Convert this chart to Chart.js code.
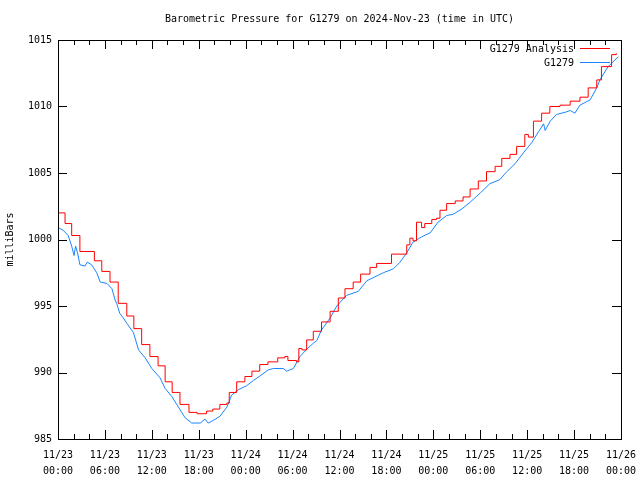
<!DOCTYPE html>
<html>
<head>
<meta charset="utf-8">
<script src="https://cdn.jsdelivr.net/npm/chart.js"></script>
<style>
  html, body { margin: 0; padding: 0; background: #fff; }
  #wrap { width: 640px; height: 480px; }
</style>
</head>
<body>
<div id="wrap"><canvas id="myChart" width="640" height="480"></canvas></div>
<script>
// hours since 11/23 00:00 UTC
const analysisHours = [0, 0.9, 1.75, 2.8, 4.65, 5.6, 6.65, 7.7, 8.8, 9.7, 10.7, 11.75, 12.8, 13.7, 14.6, 15.6, 16.75, 17.8, 19.0, 19.8, 20.7, 21.6, 21.9, 22.85, 23.9, 24.8, 25.8, 26.85, 28.1, 29.0, 29.4, 30.5, 30.8, 31.2, 31.8, 32.65, 33.7, 34.8, 35.85, 36.7, 37.75, 38.7, 39.9, 40.75, 42.65, 44.6, 45.0, 45.4, 45.85, 46.5, 46.9, 47.8, 48.4, 48.85, 49.7, 50.8, 51.8, 52.7, 53.75, 54.8, 55.9, 56.75, 57.8, 58.65, 59.7, 60.15, 60.8, 61.85, 62.9, 64.2, 65.5, 66.75, 67.8, 68.9, 69.5, 70.8, 71.4];
const analysisValues = [1002.0, 1001.2, 1000.3, 999.1, 998.4, 997.6, 996.8, 995.2, 994.25, 993.3, 992.1, 991.2, 990.5, 989.3, 988.5, 987.6, 987.0, 986.9, 987.1, 987.25, 987.6, 987.7, 988.5, 989.3, 989.7, 990.1, 990.6, 990.8, 991.1, 991.2, 990.9, 990.8, 991.8, 991.7, 992.45, 993.1, 993.8, 994.6, 995.6, 996.3, 996.8, 997.4, 997.9, 998.2, 998.9, 999.6, 1000.1, 999.9, 1001.3, 1000.9, 1001.2, 1001.5, 1001.6, 1002.2, 1002.7, 1002.9, 1003.2, 1003.8, 1004.4, 1005.1, 1005.5, 1006.1, 1006.4, 1007.0, 1007.9, 1007.7, 1008.9, 1009.5, 1010.0, 1010.1, 1010.4, 1010.7, 1011.4, 1012.0, 1013.0, 1013.9, 1014.0];

const stationHours = [0, 0.65, 1.3, 1.75, 2.05, 2.25, 2.5, 2.8, 3.45, 3.75, 4.3, 4.95, 5.4, 6.25, 6.9, 7.3, 7.5, 7.9, 8.35, 8.8, 9.65, 10.3, 11.15, 12.0, 13.05, 13.7, 14.55, 15.4, 16.25, 17.1, 18.2, 18.8, 19.2, 19.85, 20.7, 21.6, 22.2, 23.05, 24.1, 25.0, 25.85, 26.9, 27.55, 28.8, 29.25, 30.1, 30.95, 31.8, 32.65, 33.1, 33.7, 34.8, 35.65, 36.9, 38.4, 39.5, 40.55, 41.6, 42.9, 43.75, 44.6, 45.4, 46.5, 47.6, 48.6, 49.7, 50.55, 51.65, 52.7, 54.0, 55.25, 56.5, 57.4, 58.45, 59.5, 60.6, 61.45, 62.1, 62.3, 62.95, 63.75, 65.05, 65.5, 66.1, 66.75, 68.05, 68.9, 69.3, 70.35, 70.8, 71.65];
const stationValues = [1000.9, 1000.7, 1000.3, 999.5, 998.8, 999.5, 999.0, 998.1, 998.0, 998.3, 998.1, 997.5, 996.8, 996.7, 996.3, 995.45, 995.2, 994.45, 994.1, 993.7, 993.0, 991.7, 991.1, 990.3, 989.6, 988.8, 988.2, 987.4, 986.6, 986.2, 986.2, 986.5, 986.2, 986.4, 986.7, 987.4, 988.3, 988.7, 989.0, 989.4, 989.75, 990.2, 990.3, 990.3, 990.1, 990.3, 991.2, 991.75, 992.2, 992.4, 993.2, 994.1, 995.0, 995.8, 996.1, 996.9, 997.2, 997.5, 997.8, 998.3, 999.0, 999.8, 1000.2, 1000.5, 1001.3, 1001.8, 1001.9, 1002.3, 1002.8, 1003.5, 1004.2, 1004.5, 1005.1, 1005.7, 1006.5, 1007.3, 1008.1, 1008.7, 1008.2, 1008.9, 1009.4, 1009.6, 1009.7, 1009.5, 1010.1, 1010.5, 1011.4, 1012.0, 1013.0, 1013.25, 1013.75];

const dateLabels = ['11/23', '11/23', '11/23', '11/23', '11/24', '11/24', '11/24', '11/24', '11/25', '11/25', '11/25', '11/25', '11/26'];
const timeLabels = ['00:00', '06:00', '12:00', '18:00', '00:00', '06:00', '12:00', '18:00', '00:00', '06:00', '12:00', '18:00', '00:00'];
const yTicks = [985, 990, 995, 1000, 1005, 1010, 1015];

const FONT = 'DejaVu Sans Mono';

// gnuplot style frame, inward ticks, title and key
const gnuplotLook = {
    id: 'gnuplotLook',
    afterDatasetsDraw(chart) {
        const ctx = chart.ctx;
        const a = chart.chartArea;
        const xs = chart.scales.x;
        const ys = chart.scales.y;
        ctx.save();
        ctx.strokeStyle = '#000';
        ctx.lineWidth = 1;
        ctx.beginPath();
        // x ticks every 2h, major every 6h
        for (let h = 0; h <= 72; h += 2) {
            const px = Math.round(xs.getPixelForValue(h)) + 0.5;
            const len = h % 6 === 0 ? 9 : 5;
            ctx.moveTo(px, a.bottom); ctx.lineTo(px, a.bottom - len);
            ctx.moveTo(px, a.top); ctx.lineTo(px, a.top + len);
        }
        yTicks.forEach(v => {
            const py = Math.round(ys.getPixelForValue(v)) + 0.5;
            ctx.moveTo(a.left, py); ctx.lineTo(a.left + 9, py);
            ctx.moveTo(a.right, py); ctx.lineTo(a.right - 9, py);
        });
        ctx.stroke();
        ctx.strokeRect(Math.round(a.left) + 0.5, Math.round(a.top) + 0.5, Math.round(a.right - a.left), Math.round(a.bottom - a.top));

        ctx.fillStyle = '#000';
        ctx.font = '10px "' + FONT + '"';
        ctx.textAlign = 'center';
        ctx.textBaseline = 'middle';
        ctx.fillText('Barometric Pressure for G1279 on 2024-Nov-23 (time in UTC)', (a.left + a.right) / 2, 19);

        ctx.textAlign = 'right';
        chart.data.datasets.forEach((ds, i) => {
            const y = 48.5 + i * 14;
            ctx.fillStyle = '#000';
            ctx.fillText(ds.label, 574, y + 0.5);
            ctx.strokeStyle = ds.borderColor;
            ctx.beginPath();
            ctx.moveTo(580, y); ctx.lineTo(610, y);
            ctx.stroke();
        });
        ctx.restore();
    }
};

const bgWhite = {
    id: 'bgWhite',
    beforeDraw(chart) {
        const ctx = chart.ctx;
        ctx.save();
        ctx.fillStyle = '#fff';
        ctx.fillRect(0, 0, chart.width, chart.height);
        ctx.restore();
    }
};

const ctx = document.getElementById('myChart').getContext('2d');
const myChart = new Chart(ctx, {
    type: 'line',
    data: {
        datasets: [{
            label: 'G1279 Analysis',
            data: analysisHours.map((h, i) => ({ x: h, y: analysisValues[i] })),
            borderColor: '#ff0000',
            borderWidth: 1,
            pointRadius: 0,
            stepped: true,
            fill: false
        }, {
            label: 'G1279',
            data: stationHours.map((h, i) => ({ x: h, y: stationValues[i] })),
            borderColor: '#1a86ff',
            borderWidth: 1,
            pointRadius: 0,
            tension: 0,
            fill: false
        }]
    },
    options: {
        responsive: false,
        animation: false,
        layout: { padding: { top: 40, right: 19, left: 0, bottom: 0 } },
        plugins: {
            legend: { display: false },
            title: { display: false },
            tooltip: { enabled: false }
        },
        scales: {
            x: {
                type: 'linear',
                min: 0,
                max: 72,
                grid: { display: false, drawTicks: false },
                border: { display: false },
                afterFit: (s) => { s.height = 41; s.paddingLeft = 0; s.paddingRight = 0; },
                afterBuildTicks: (s) => { s.ticks = timeLabels.map((t, i) => ({ value: i * 6 })); },
                ticks: {
                    autoSkip: false,
                    maxRotation: 0,
                    padding: 8,
                    color: '#000',
                    font: { family: FONT, size: 10, lineHeight: '16px' },
                    callback: (v) => {
                        const i = Math.round(v / 6);
                        return [dateLabels[i], timeLabels[i]];
                    }
                }
            },
            y: {
                min: 985,
                max: 1015,
                grid: { display: false, drawTicks: false },
                border: { display: false },
                afterFit: (s) => { s.width = 58; },
                afterBuildTicks: (s) => { s.ticks = yTicks.map(v => ({ value: v })); },
                ticks: {
                    padding: 6,
                    color: '#000',
                    font: { family: FONT, size: 10 },
                    callback: (v) => String(v)
                },
                title: {
                    display: true,
                    text: 'milliBars',
                    color: '#000',
                    font: { family: FONT, size: 10 },
                    padding: { top: 4, bottom: 0 }
                }
            }
        }
    },
    plugins: [bgWhite, gnuplotLook]
});
</script>
</body>
</html>
